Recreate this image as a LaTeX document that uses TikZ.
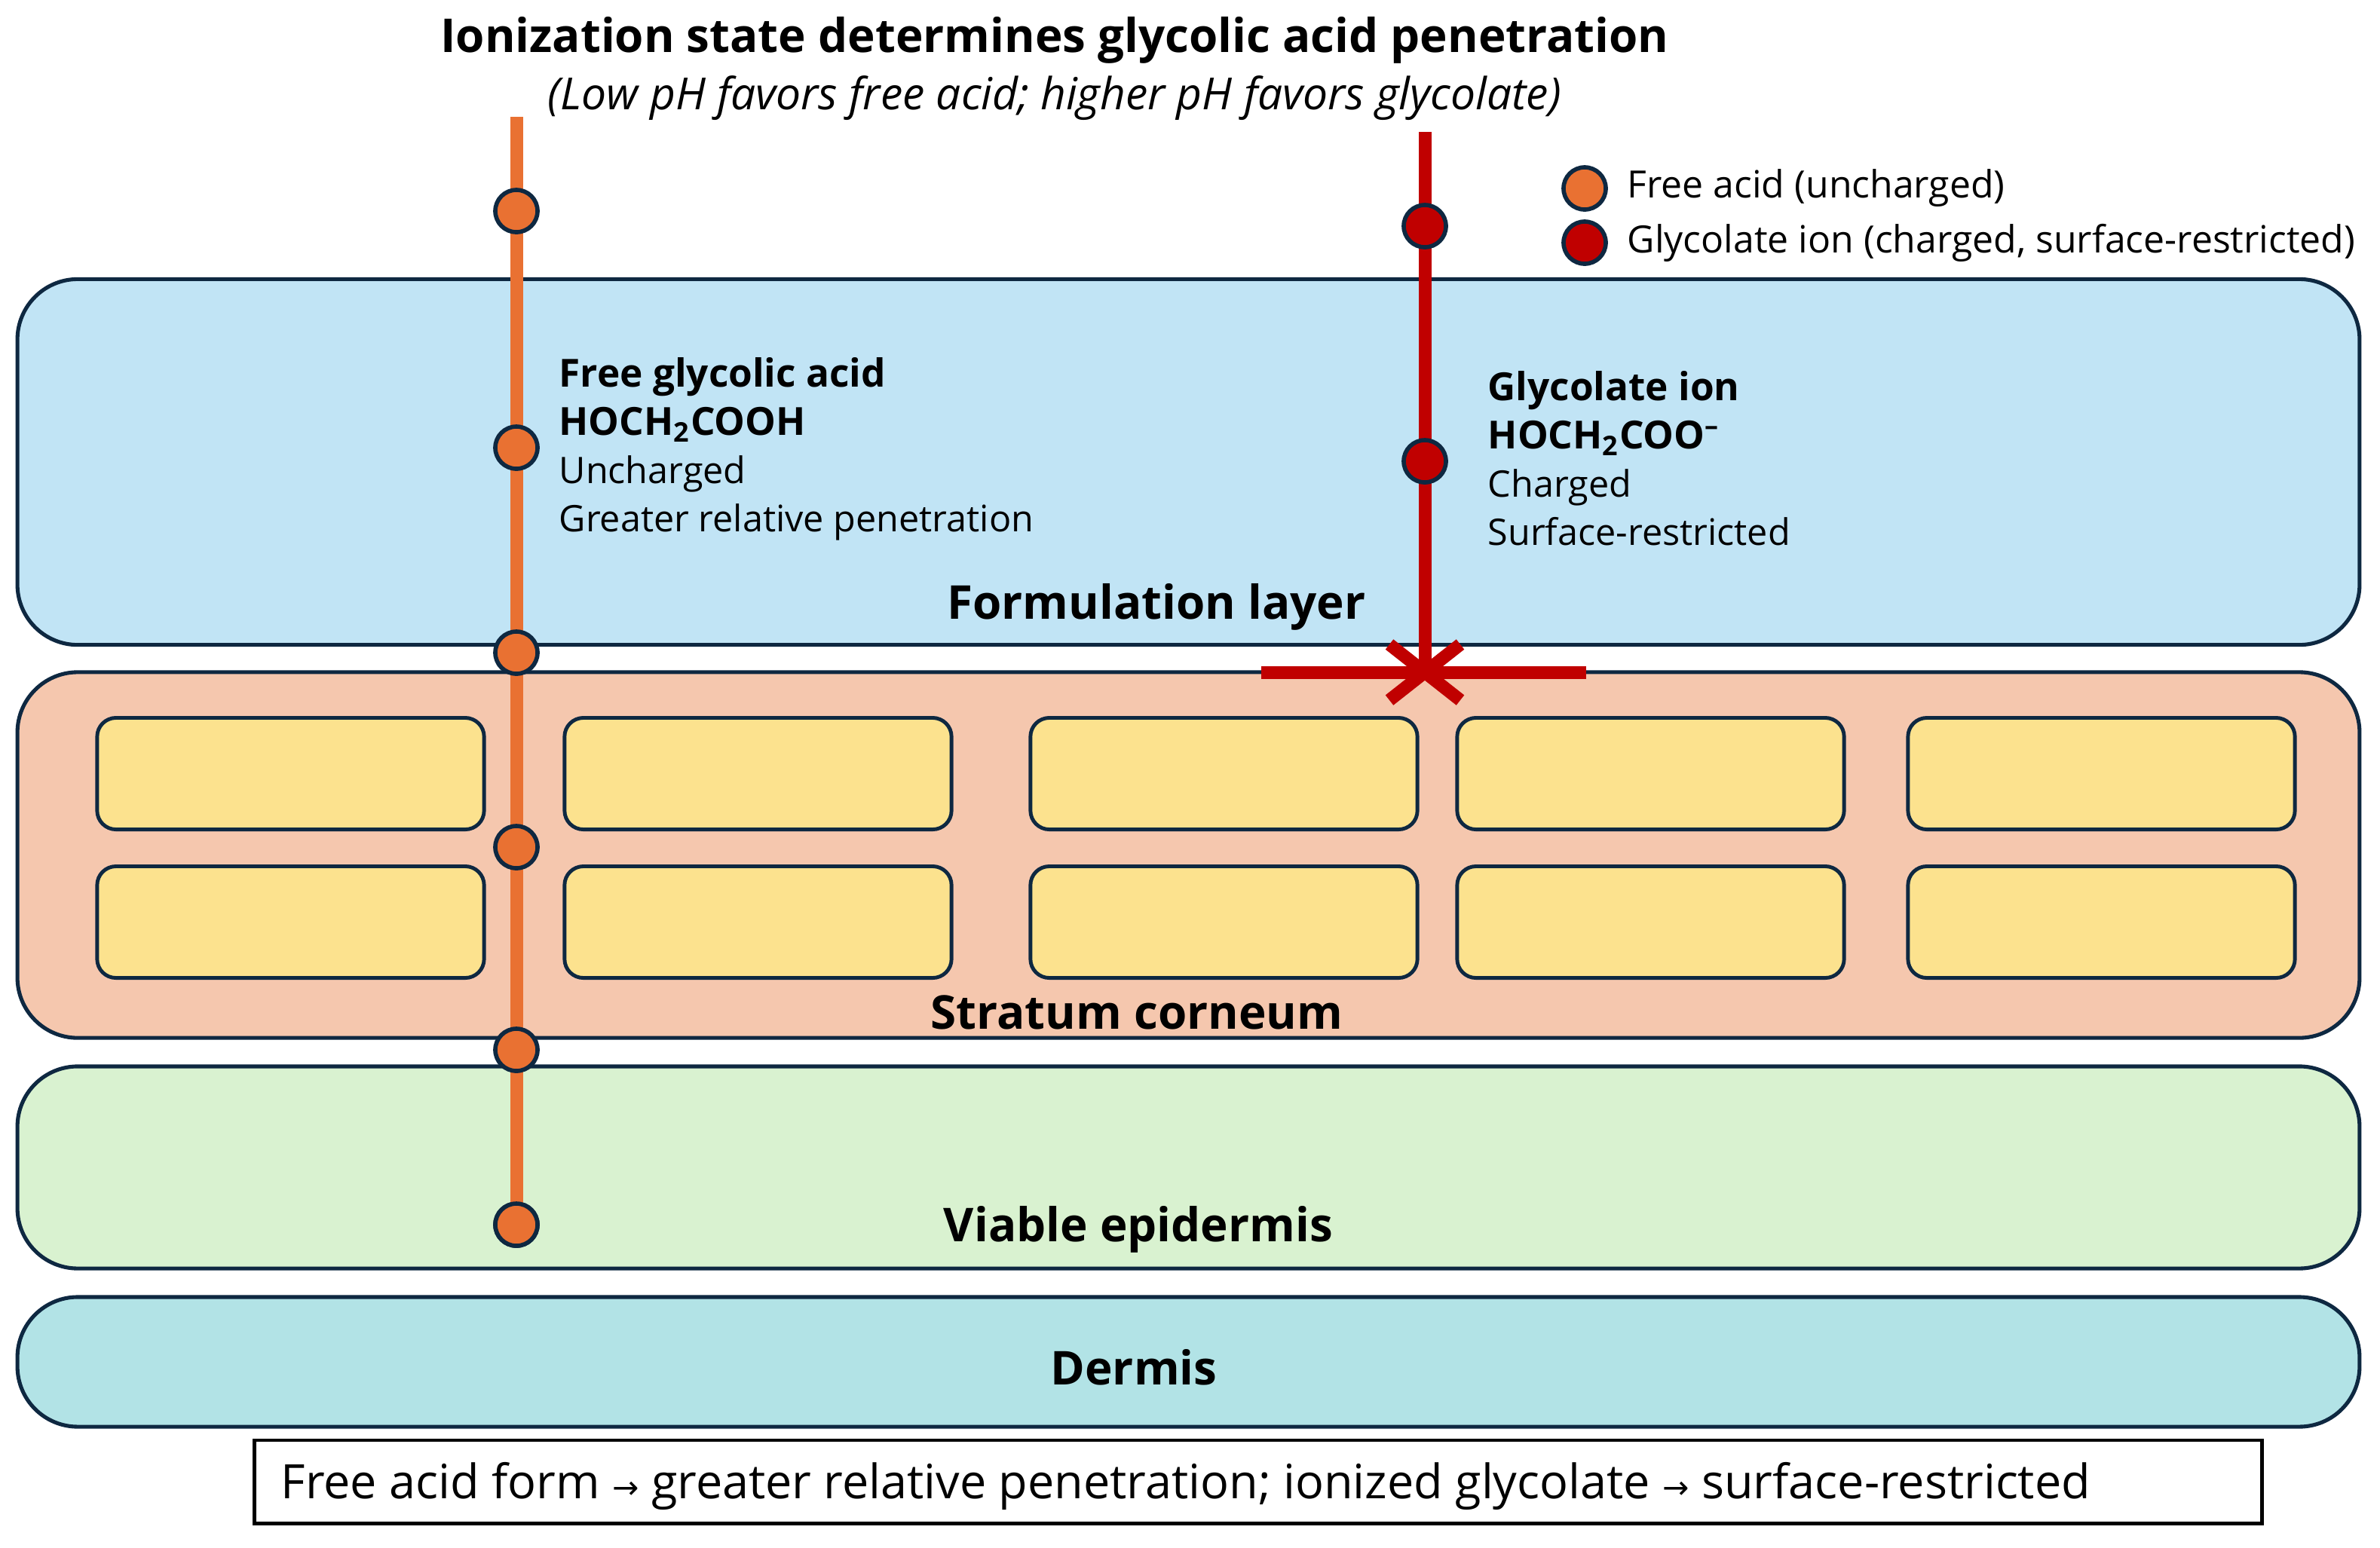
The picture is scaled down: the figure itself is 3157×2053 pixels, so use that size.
\documentclass[tikz,border=0pt]{standalone}
\usepackage{fontspec}
\usetikzlibrary{calc}
\setmainfont{Open Sans}
\newfontfamily\arrowfont{DejaVu Sans}
\definecolor{navy}{HTML}{0E2841}
\definecolor{formc}{HTML}{C1E4F5}
\definecolor{scc}{HTML}{F5C7AE}
\definecolor{cellc}{HTML}{FCE28E}
\definecolor{epic}{HTML}{D9F2D0}
\definecolor{dermc}{HTML}{B2E3E6}
\definecolor{orangec}{HTML}{E97132}
\definecolor{redc}{HTML}{C00000}
\tikzset{
  layerbox/.style={draw=navy, line width=1.45pt, rounded corners=0.8cm, inner sep=0, minimum width=31.05cm},
  cell/.style={draw=navy, fill=cellc, line width=1.4pt, rounded corners=0.25cm, inner sep=0, minimum width=5.13cm, minimum height=1.48cm},
  dotA/.style={circle, fill=orangec, draw=navy, line width=1.6pt, minimum size=0.56cm, inner sep=0},
  dotB/.style={circle, fill=redc, draw=navy, line width=1.6pt, minimum size=0.56cm, inner sep=0},
  layerlabel/.style={font=\fontsize{17.6}{21}\selectfont\bfseries, inner sep=0},
  bodytext/.style={font=\fontsize{13.8}{18.2}\selectfont, align=left, inner sep=0, anchor=north west},
  boldline/.style={font=\fontsize{14.6}{18.2}\selectfont\bfseries},
  legtext/.style={font=\fontsize{14.2}{16}\selectfont, anchor=west, inner sep=0},
  pathA/.style={draw=orangec, line width=0.17cm},
  pathB/.style={draw=redc, line width=0.17cm},
}
\newcommand{\bl}[1]{{\fontsize{14.6}{18.2}\selectfont\bfseries #1}}
\begin{document}
\begin{tikzpicture}[x=0.01cm,y=-0.01cm]
\useasboundingbox (0,0) rectangle (3157,2053);
\fill[white] (0,0) rectangle (3157,2053);
% layers
\node[layerbox, fill=formc, minimum height=4.85cm] (form) at (1576.5,613) {};
\node[layerbox, fill=scc, minimum height=4.85cm] (sc) at (1576.5,1134.5) {};
\node[layerbox, fill=epic, minimum height=2.68cm] (epi) at (1576.5,1549) {};
\node[layerbox, fill=dermc, minimum height=1.72cm] (derm) at (1576.5,1807) {};
% corneocytes
\node[cell] (c11) at (385.5,1026.5) {};
\node[cell] (c12) at (1005.5,1026.5) {};
\node[cell] (c13) at (1623.5,1026.5) {};
\node[cell] (c14) at (2189.5,1026.5) {};
\node[cell] (c15) at (2787.5,1026.5) {};
\node[cell] (c21) at (385.5,1223.5) {};
\node[cell] (c22) at (1005.5,1223.5) {};
\node[cell] (c23) at (1623.5,1223.5) {};
\node[cell] (c24) at (2189.5,1223.5) {};
\node[cell] (c25) at (2787.5,1223.5) {};
% layer labels
\node[layerlabel] (lform) at (1534,805) {Formulation layer};
\node[layerlabel] (lsc) at (1508,1343) {Stratum corneum};
\node[layerlabel] (lepi) at (1510,1631) {Viable epidermis};
\node[layerlabel] (lderm) at (1504,1814) {Dermis};
% title
\node[font=\fontsize{17.6}{21}\selectfont\bfseries, inner sep=0] (title) at (1399,53) {Ionization state determines glycolic acid penetration};
\node[font=\fontsize{16.7}{19}\selectfont\itshape, inner sep=0] (subtitle) at (1399,130) {(Low pH favors free acid; higher pH favors glycolate)};
% free acid path
\coordinate (atop) at (685,155);
\node[dotA] (a6) at (685,1625) {};
\draw[pathA] (atop) -- (a6.center);
\node[dotA] (a1) at (685,280) {};
\node[dotA] (a2) at (685,594) {};
\node[dotA] (a3) at (685,866) {};
\node[dotA] (a4) at (685,1124) {};
\node[dotA] (a5) at (685,1393) {};
\node[dotA] at (a6) {};
% glycolate path
\coordinate (btop) at (1890,175);
\coordinate (bstop) at (1890,892);
\coordinate (barL) at (1673,892);
\coordinate (barR) at (2104,892);
\draw[pathB] (btop) -- (bstop);
\draw[pathB] (barL) -- (barR);
\draw[pathB] ($(bstop)+(-47,-37)$) -- ($(bstop)+(47,37)$);
\draw[pathB] ($(bstop)+(-47,37)$) -- ($(bstop)+(47,-37)$);
\node[dotB] (b1) at (1890,300) {};
\node[dotB] (b2) at (1890,612) {};
% text blocks
\node[bodytext] (ta) at (741,474) {\bl{Free glycolic acid}\\\bl{HOCH\textsubscript{2}COOH}\\Uncharged\\Greater relative penetration};
\node[bodytext] (tb) at (1973,492) {\bl{Glycolate ion}\\\bl{HOCH\textsubscript{2}COO\textsuperscript{–}}\\Charged\\Surface-restricted};
% legend
\node[dotA] (legA) at (2102,250) {};
\node[dotB] (legB) at (2102,322) {};
\node[legtext] (legAt) at (2158,250) {Free acid (uncharged)};
\node[legtext] (legBt) at (2158,322) {Glycolate ion (charged, surface-restricted)};
% bottom summary
\node[draw=black, line width=1.4pt, minimum width=26.62cm, minimum height=1.1cm, inner sep=0] (sum) at (1669,1966) {};
\node[font=\fontsize{17.9}{20}\selectfont, anchor=west, inner sep=0] (sumt) at (372,1972) {Free acid form {\arrowfont\fontsize{12}{13}\selectfont →} greater relative penetration; ionized glycolate {\arrowfont\fontsize{12}{13}\selectfont →} surface-restricted};
\end{tikzpicture}
\end{document}
